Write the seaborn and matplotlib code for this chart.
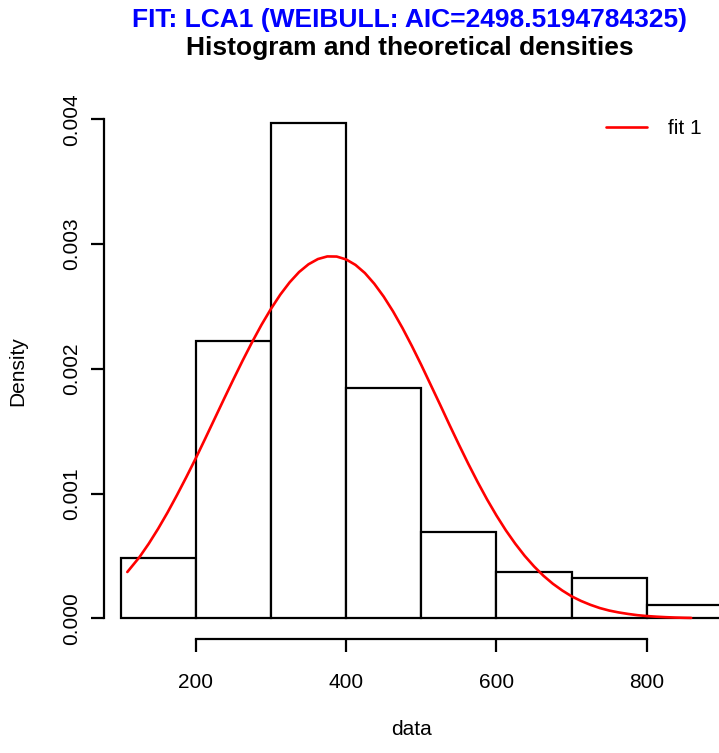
import matplotlib
matplotlib.use("Agg")
import matplotlib.pyplot as plt
import seaborn as sns

# histogram (density scale), bins of width 100
bin_edges = [100, 200, 300, 400, 500, 600, 700, 800, 900]
bin_density = [0.00048, 0.00222, 0.00397, 0.00185, 0.00069, 0.00037, 0.00032, 0.00011]

# fitted weibull density
curve_x = [109, 125, 137.5, 150, 162.5, 175, 187.5, 200, 212.5, 225, 237.5, 250,
           262.5, 275, 287.5, 300, 312.5, 325, 337.5, 350, 362.5, 375, 387.5, 400,
           412.5, 425, 437.5, 450, 462.5, 475, 487.5, 500, 512.5, 525, 537.5, 550,
           562.5, 575, 587.5, 600, 612.5, 625, 637.5, 650, 662.5, 675, 687.5, 700,
           712.5, 725, 737.5, 750, 762.5, 775, 787.5, 800, 812.5, 825, 837.5, 850, 859]
curve_y = [0.000371, 0.000489, 0.000598, 0.000718, 0.000848, 0.000987, 0.001132,
           0.001282, 0.001439, 0.001598, 0.001757, 0.001914, 0.002067, 0.002214,
           0.002353, 0.002480, 0.002595, 0.002694, 0.002776, 0.002838, 0.002880,
           0.002901, 0.002900, 0.002877, 0.002833, 0.002768, 0.002682, 0.002579,
           0.002460, 0.002327, 0.002183, 0.002031, 0.001872, 0.001713, 0.001551,
           0.001393, 0.001239, 0.001092, 0.000953, 0.000824, 0.000705, 0.000598,
           0.000501, 0.000416, 0.000341, 0.000277, 0.000223, 0.000176, 0.000139,
           0.000108, 0.000082, 0.000062, 0.000047, 0.000035, 0.000025, 0.000018,
           0.000013, 0.000009, 0.000006, 0.000004, 0.000003]

x_ticks = [200, 400, 600, 800]
y_ticks = [0.000, 0.001, 0.002, 0.003, 0.004]

sns.set_style("white")
plt.rcParams["font.family"] = ["Liberation Sans", "DejaVu Sans"]
plt.rcParams["text.color"] = "black"
plt.rcParams["axes.labelcolor"] = "black"

W, H = 719, 753
fig = plt.figure(figsize=(W / 100, H / 100), dpi=100)
ax = fig.add_axes([104 / W, 1 - 639 / H, 1 - 104 / W, (639 - 104) / H])

centers = [(a + b) / 2 for a, b in zip(bin_edges[:-1], bin_edges[1:])]
sns.histplot(x=centers, weights=bin_density, bins=bin_edges, stat="count",
             color="white", edgecolor="black", linewidth=1.6, alpha=1, ax=ax)
sns.lineplot(x=curve_x, y=curve_y, color="red", linewidth=1.9, label="fit 1", ax=ax)

ax.set_xlim(78, 896)
ax.set_ylim(-0.000166, 0.004123)

for s in ["top", "right"]:
    ax.spines[s].set_visible(False)
ax.spines["left"].set_bounds(0, 0.004)
ax.spines["bottom"].set_bounds(200, 800)
for s in ["left", "bottom"]:
    ax.spines[s].set_linewidth(1.6)
    ax.spines[s].set_color("black")

ax.set_xticks(x_ticks)
ax.set_xticklabels([str(t) for t in x_ticks])
ax.set_yticks(y_ticks)
ax.set_yticklabels([f"{t:.3f}" for t in y_ticks], rotation=90, va="center")
ax.tick_params(axis="both", direction="out", length=9.4, width=1.6, labelsize=15,
               left=True, bottom=True, colors="black")
ax.tick_params(axis="x", pad=15)
ax.tick_params(axis="y", pad=7)

ax.set_xlabel("data", fontsize=15, labelpad=20, color="black")
ax.set_ylabel("Density", fontsize=15, labelpad=25, color="black")

leg = ax.legend(loc="center right", frameon=False, fontsize=15, handlelength=2.0,
                handletextpad=1.0, borderaxespad=0,
                bbox_to_anchor=(710 / W, 1 - 129 / H), bbox_transform=fig.transFigure)
for t in leg.get_texts():
    t.set_color("black")

fig.text(410 / W, 1 - 27 / H, "FIT: LCA1 (WEIBULL: AIC=2498.5194784325)",
         color="blue", fontsize=19, fontweight="bold", ha="center", va="baseline")
fig.text(410 / W, 1 - 55 / H, "Histogram and theoretical densities",
         color="black", fontsize=19, fontweight="bold", ha="center", va="baseline")

fig.savefig("out.png", dpi=100)
